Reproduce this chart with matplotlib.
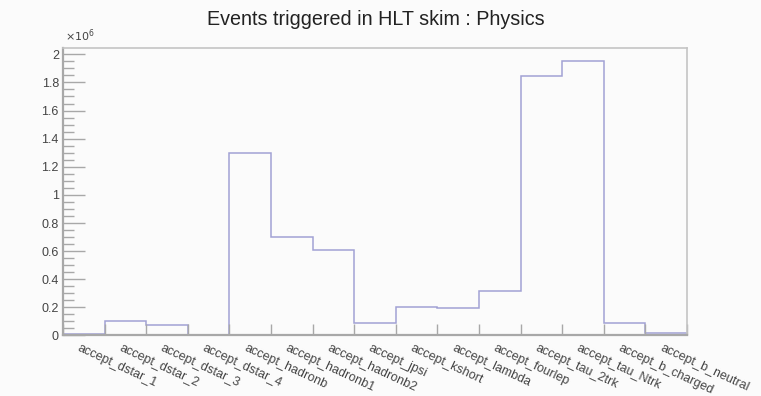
import numpy as np
import matplotlib.pyplot as plt
from matplotlib.ticker import MultipleLocator, FixedLocator
from matplotlib.transforms import ScaledTranslation

# HLT skim trigger counts (Physics stream)
triggers = ["accept_dstar_1", "accept_dstar_2", "accept_dstar_3", "accept_dstar_4",
            "accept_hadronb", "accept_hadronb1", "accept_hadronb2", "accept_jpsi",
            "accept_kshort", "accept_lambda", "accept_fourlep", "accept_tau_2trk",
            "accept_tau_Ntrk", "accept_b_charged", "accept_b_neutral"]
counts = [10000, 100000, 78000, 3000,
          1300000, 700000, 607000, 88000,
          206000, 194000, 313000, 1843000,
          1952000, 92000, 21000]

plt.rcParams['font.family'] = ['Liberation Sans', 'DejaVu Sans']

fig = plt.figure(figsize=(7.61, 3.96), dpi=100, facecolor='#fbfbfb')
ax = fig.add_axes([0.0828, 0.1528, 0.82, 0.726])
ax.set_facecolor('#fbfbfb')

edges = np.arange(len(counts) + 1)
vals = np.array(counts) / 1e6
ax.stairs(vals, edges, baseline=0, color='#a2a2d4', linewidth=1.1)

ax.set_xlim(0, len(counts))
ax.set_ylim(0, 2.045)

# frame
for side in ['top', 'right']:
    ax.spines[side].set_color('#c4c4c4')
    ax.spines[side].set_linewidth(1.2)
for side in ['left', 'bottom']:
    ax.spines[side].set_color('#a8a8a8')
    ax.spines[side].set_linewidth(1.6)

# y axis: major every 0.2, minor every 0.05, ticks pointing inward
ax.yaxis.set_minor_locator(MultipleLocator(0.05))
ax.set_yticks(np.arange(0, 2.01, 0.2))
ax.set_yticklabels(['0'] + [f"{v:.1f}" for v in np.arange(0.2, 0.99, 0.2)] + ['1']
                   + [f"{v:.1f}" for v in np.arange(1.2, 1.99, 0.2)] + ['2'])
ax.tick_params(axis='y', which='major', direction='in', length=16, width=1,
               color='#a8a8a8', labelsize=9, labelcolor='#444444', pad=3)
ax.tick_params(axis='y', which='minor', direction='in', length=8, width=1,
               color='#a8a8a8')

# x axis: ticks at bin edges, labels at bin centers
ax.xaxis.set_minor_locator(FixedLocator(edges))
ax.set_xticks(edges[:-1] + 0.5)
ax.set_xticklabels(triggers, rotation=-25, ha='left', va='top',
                   rotation_mode='anchor', fontsize=9, color='#444444')
ax.tick_params(axis='x', which='major', length=0, pad=4.5)
ax.tick_params(axis='x', which='minor', direction='in', length=8, width=1,
               color='#a8a8a8')
shift = ScaledTranslation(-3 / 100, 0, fig.dpi_scale_trans)
for lbl in ax.get_xticklabels():
    lbl.set_transform(lbl.get_transform() + shift)

fig.text(0.0854, 0.888, r"$\times10^{6}$", fontsize=8, color='#444444',
         ha='left', va='bottom')
fig.text(0.494, 0.952, "Events triggered in HLT skim : Physics", fontsize=14.2,
         color='#222222', ha='center', va='center')

fig.savefig("out.png", dpi=100, facecolor=fig.get_facecolor())
